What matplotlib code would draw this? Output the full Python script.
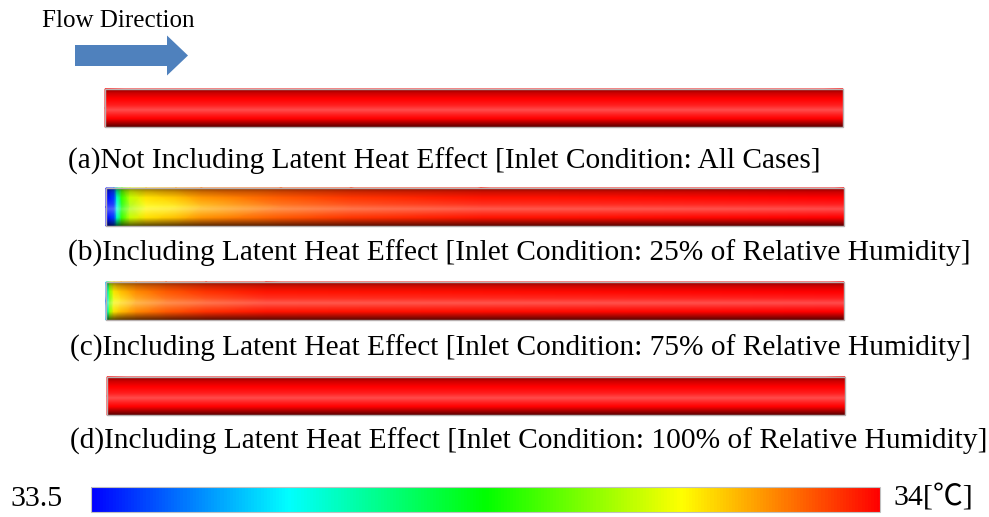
import matplotlib.pyplot as plt
import numpy as np
from matplotlib.colors import LinearSegmentedColormap
from matplotlib.patches import FancyArrow, Rectangle
from matplotlib.cm import ScalarMappable
from matplotlib.colors import Normalize

# temperature range of the contour legend [degC]
t_min, t_max = 33.5, 34.0

# axial stations (px from pipe inlet) and temperatures
# centre-line and near-wall values
a_pos = [0, 738]
a_center = [34.0, 34.0]
a_wall = [34.0, 34.0]

b_pos = [0, 8, 11, 16, 24, 40, 70, 95, 175, 245, 375, 738]
b_center = [33.5, 33.52, 33.63, 33.75, 33.83, 33.875, 33.885, 33.91, 33.95, 33.97, 33.99, 34.0]
b_wall = [33.5, 33.54, 33.68, 33.8, 33.86, 33.9, 33.92, 33.94, 33.96, 33.975, 33.99, 34.0]

c_pos = [0, 2, 4, 8, 15, 30, 60, 100, 160, 738]
c_center = [33.55, 33.65, 33.8, 33.87, 33.89, 33.92, 33.95, 33.97, 33.99, 34.0]
c_wall = [33.6, 33.7, 33.84, 33.9, 33.92, 33.94, 33.96, 33.98, 33.99, 34.0]

d_pos = [0, 738]
d_center = [34.0, 34.0]
d_wall = [34.0, 34.0]

captions = [
    '(a)Not Including Latent Heat Effect [Inlet Condition: All Cases]',
    '(b)Including Latent Heat Effect [Inlet Condition: 25% of Relative Humidity]',
    '(c)Including Latent Heat Effect [Inlet Condition: 75% of Relative Humidity]',
    '(d)Including Latent Heat Effect [Inlet Condition: 100% of Relative Humidity]',
]

serif = ['Liberation Serif', 'Noto Sans CJK JP', 'DejaVu Serif']
cmap = LinearSegmentedColormap.from_list(
    'fluent', ['#0000ff', '#00ffff', '#00ff00', '#ffff00', '#ff0000'])

fig = plt.figure(figsize=(9.89, 5.17), dpi=100)
ax = fig.add_axes([0, 0, 1, 1])
ax.set_xlim(0, 989)
ax.set_ylim(517, 0)
ax.axis('off')

# lighting overlay for the 3D look of the pipes (top -> bottom)
yy = np.linspace(0, 1, 80)
stops = [0.0, 0.1, 0.25, 0.42, 0.55, 0.68, 0.78, 0.9, 1.0]
shade = [-0.45, -0.2, 0.0, 0.12, 0.3, 0.12, 0.0, -0.35, -0.65]
s = np.interp(yy, stops, shade)
overlay = np.zeros((len(yy), 1, 4))
overlay[:, 0, :3] = np.where(s[:, None] > 0, 1.0, 0.0)
overlay[:, 0, 3] = np.abs(s)

pipes = [
    (105, 89, a_pos, a_center, a_wall),
    (106, 188, b_pos, b_center, b_wall),
    (106, 282, c_pos, c_center, c_wall),
    (107, 377, d_pos, d_center, d_wall),
]
pipe_len, pipe_h = 738, 38

for x0, y0, pos, tc, tw in pipes:
    xs = x0 + np.array(pos, dtype=float)
    X = np.vstack([xs, xs, xs])
    Y = np.vstack([np.full_like(xs, y0), np.full_like(xs, y0 + pipe_h / 2),
                   np.full_like(xs, y0 + pipe_h)])
    C = np.vstack([tw, tc, tw])
    ax.pcolormesh(X, Y, C, shading='gouraud', cmap=cmap, vmin=t_min, vmax=t_max,
                  antialiased=False)
    ax.imshow(overlay, extent=(x0, x0 + pipe_len, y0 + pipe_h, y0),
              aspect='auto', interpolation='bilinear', zorder=3)
    ax.add_patch(Rectangle((x0, y0), pipe_len, pipe_h, fill=False,
                           edgecolor='#b8b0b0', lw=1.0, zorder=4))

# captions under each pipe
for cap, (xl, yc) in zip(captions, [(68, 161), (68, 253), (70, 348), (70, 441)]):
    ax.text(xl, yc, cap, fontsize=21.2, family=serif, ha='left', va='center')

# flow direction arrow
ax.text(42, 21, 'Flow Direction', fontsize=18, family=serif, ha='left', va='center')
ax.add_patch(FancyArrow(75, 55.5, 113, 0, width=21, head_width=40, head_length=21,
                        length_includes_head=True, color='#4f81bd', lw=0))

# colour legend
cax = fig.add_axes([91 / 989, 1 - 512 / 517, (880 - 91) / 989, 25 / 517])
cb = fig.colorbar(ScalarMappable(norm=Normalize(t_min, t_max), cmap=cmap),
                  cax=cax, orientation='horizontal')
cb.set_ticks([])
cb.outline.set_edgecolor('#c0c0c0')
cb.outline.set_linewidth(0.8)
ax.text(10, 499, '33.5', fontsize=21.5, family=serif, ha='left', va='center')
ax.text(893, 498, '34[℃]', fontsize=21.5, family=serif, ha='left', va='center')

fig.savefig('out.png', dpi=100)
